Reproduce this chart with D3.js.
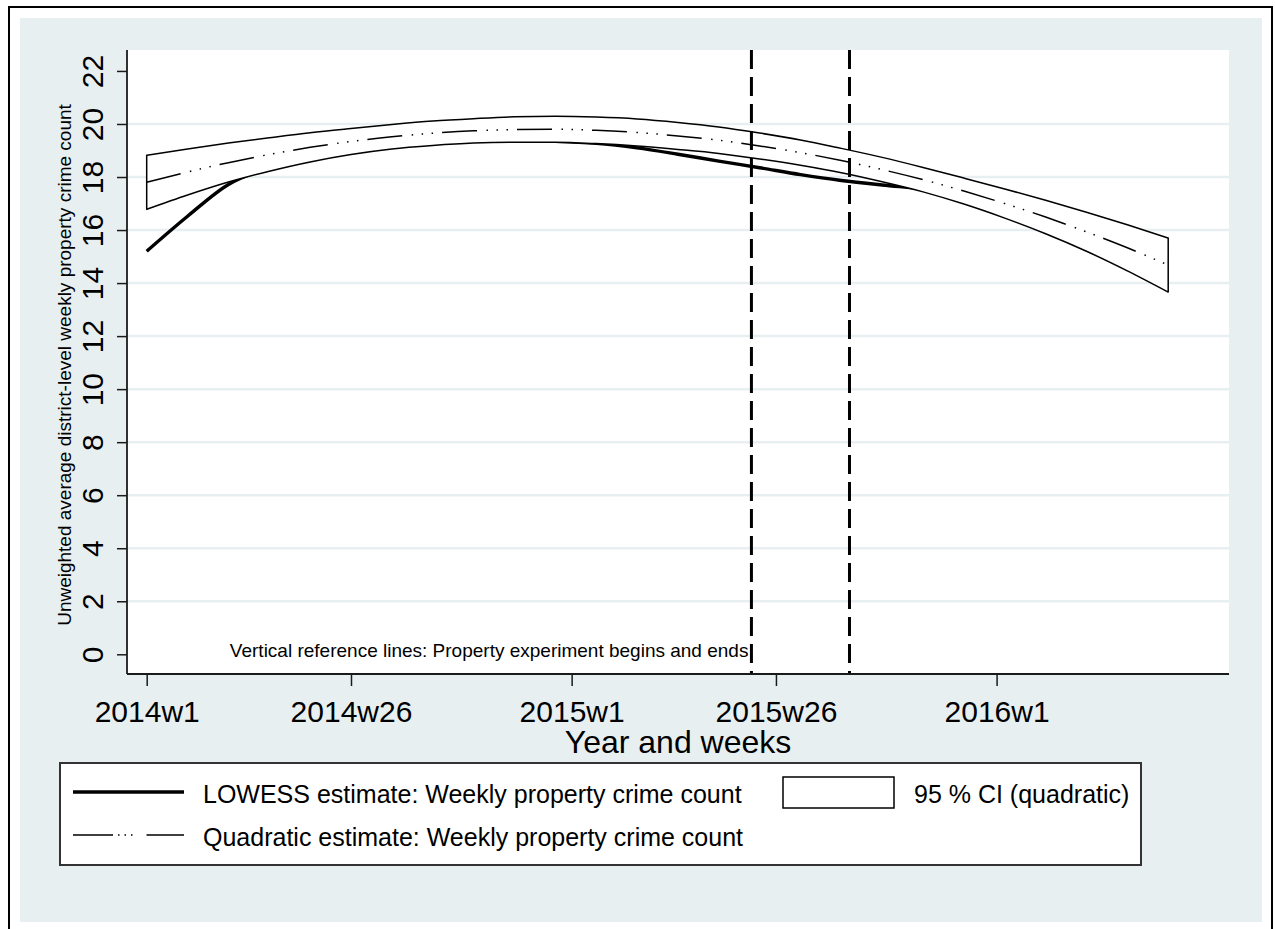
<!DOCTYPE html>
<html>
<head>
<meta charset="utf-8">
<script src="https://cdn.jsdelivr.net/npm/d3@7"></script>
<style>
  html, body { margin: 0; padding: 0; background: #ffffff; }
  svg { display: block; font-family: "Liberation Sans", Arial, sans-serif; }
</style>
</head>
<body>
<svg id="chart" width="1275" height="929"></svg>
<script>
// Weeks counted from 2014w1 (= 0)
const weeks = [0, 5, 10, 15, 20, 25, 30, 35, 40, 45, 50, 55, 60, 65, 70, 75, 80, 85, 90, 95, 100, 105, 110, 115, 120, 125];

// LOWESS estimate of the weekly property crime count
const lowess = [15.20, 16.52, 17.72, 18.35, 18.70, 18.95, 19.15, 19.28, 19.36, 19.38, 19.35, 19.27, 19.10, 18.86, 18.60, 18.35, 18.09, 17.87, 17.70, 17.55, 17.35, 17.10, 16.75, 16.30, 15.80, 15.10];

// Quadratic fit and its 95 % confidence interval
const quadFit = [17.80, 18.19, 18.54, 18.85, 19.12, 19.34, 19.52, 19.65, 19.74, 19.79, 19.80, 19.76, 19.68, 19.55, 19.39, 19.17, 18.92, 18.62, 18.28, 17.90, 17.47, 17.00, 16.49, 15.93, 15.33, 14.68];
const ciUpper = [18.82, 19.06, 19.28, 19.48, 19.67, 19.83, 19.98, 20.11, 20.20, 20.27, 20.29, 20.26, 20.19, 20.06, 19.89, 19.66, 19.40, 19.08, 18.74, 18.36, 17.96, 17.55, 17.12, 16.67, 16.20, 15.70];
const ciLower = [16.78, 17.32, 17.81, 18.22, 18.57, 18.85, 19.06, 19.19, 19.28, 19.31, 19.31, 19.26, 19.17, 19.04, 18.89, 18.68, 18.44, 18.16, 17.82, 17.44, 16.98, 16.45, 15.86, 15.20, 14.46, 13.66];

// Experiment start and end (2015w23, 2015w35)
const refWeeks = [74, 86];

// Axis ticks
const xTickWeeks = [0, 25, 52, 77, 104];
const xTickLabels = ["2014w1", "2014w26", "2015w1", "2015w26", "2016w1"];
const yTicks = [0, 2, 4, 6, 8, 10, 12, 14, 16, 18, 20, 22];
const yGrid = [2, 4, 6, 8, 10, 12, 14, 16, 18, 20];

const bg = "#e8eff1";
const svg = d3.select("#chart");

// outer frame and graph region
svg.append("rect").attr("x", 9).attr("y", 7).attr("width", 1263).attr("height", 940)
  .attr("fill", "#ffffff").attr("stroke", "#000").attr("stroke-width", 2);
svg.append("rect").attr("x", 20).attr("y", 18).attr("width", 1242).attr("height", 904)
  .attr("fill", bg);

const plot = { left: 127, right: 1229, top: 50, bottom: 674 };
svg.append("rect").attr("x", plot.left).attr("y", plot.top)
  .attr("width", plot.right - plot.left).attr("height", plot.bottom - plot.top)
  .attr("fill", "#ffffff");

const x = d3.scaleLinear().domain([-2.41, 132.44]).range([plot.left, plot.right]);
const y = d3.scaleLinear().domain([-0.743, 22.79]).range([plot.bottom, plot.top]);

// horizontal grid
svg.append("g").selectAll("line").data(yGrid).join("line")
  .attr("x1", plot.left).attr("x2", plot.right)
  .attr("y1", d => y(d)).attr("y2", d => y(d))
  .attr("stroke", bg).attr("stroke-width", 2.5);

const pts = weeks.map((w, i) => ({ w, lo: lowess[i], q: quadFit[i], up: ciUpper[i], dn: ciLower[i] }));

// LOWESS line (drawn first; the CI band covers it where it lies inside)
svg.append("path").datum(pts)
  .attr("d", d3.line().x(d => x(d.w)).y(d => y(d.lo)).curve(d3.curveMonotoneX))
  .attr("fill", "none").attr("stroke", "#000").attr("stroke-width", 3.4)
  .attr("stroke-linejoin", "round");

// CI band
svg.append("path").datum(pts)
  .attr("d", d3.area().x(d => x(d.w)).y0(d => y(d.dn)).y1(d => y(d.up)).curve(d3.curveMonotoneX)(pts) + "")
  .attr("fill", "#ffffff").attr("stroke", "#000").attr("stroke-width", 1.5)
  .attr("stroke-linejoin", "round");

// quadratic estimate
const quadDash = "35 9.5 1.5 8.5 1.5 8.5 1.5 9";
svg.append("path").datum(pts)
  .attr("d", d3.line().x(d => x(d.w)).y(d => y(d.q)).curve(d3.curveMonotoneX))
  .attr("fill", "none").attr("stroke", "#000").attr("stroke-width", 1.5)
  .attr("stroke-dasharray", quadDash);

// experiment reference lines
svg.append("g").selectAll("line").data(refWeeks).join("line")
  .attr("x1", d => x(d)).attr("x2", d => x(d))
  .attr("y1", plot.top).attr("y2", plot.bottom)
  .attr("stroke", "#000").attr("stroke-width", 3)
  .attr("stroke-dasharray", "19 8");

svg.append("text")
  .attr("x", x(refWeeks[0]) - 3).attr("y", y(0) + 3)
  .attr("text-anchor", "end").attr("font-size", 19).attr("fill", "#000")
  .text("Vertical reference lines: Property experiment begins and ends");

// axes
const axisColor = "#1a1a1a";
const yAxis = svg.append("g").attr("transform", `translate(${plot.left},0)`)
  .call(d3.axisLeft(y).tickValues(yTicks).tickSize(10).tickSizeOuter(0));
yAxis.select(".domain").attr("d", `M0,${plot.top}V${plot.bottom}`)
  .attr("stroke", axisColor).attr("stroke-width", 1.8);
yAxis.selectAll(".tick line").attr("stroke", axisColor).attr("stroke-width", 1.5);
yAxis.selectAll(".tick text")
  .attr("transform", "rotate(-90)").attr("x", 0).attr("y", -24).attr("dy", 0)
  .attr("text-anchor", "middle").attr("font-size", 30).attr("fill", "#000")
  .attr("font-family", "Liberation Sans, Arial, sans-serif");

const xAxis = svg.append("g").attr("transform", `translate(0,${plot.bottom})`)
  .call(d3.axisBottom(x).tickValues(xTickWeeks).tickSize(12).tickSizeOuter(0)
    .tickFormat((d, i) => xTickLabels[i]));
xAxis.select(".domain").attr("d", `M${plot.left},0H${plot.right}`)
  .attr("stroke", axisColor).attr("stroke-width", 1.8);
xAxis.selectAll(".tick line").attr("stroke", axisColor).attr("stroke-width", 1.5);
xAxis.selectAll(".tick text")
  .attr("y", 48).attr("dy", 0).attr("font-size", 30).attr("fill", "#000")
  .attr("font-family", "Liberation Sans, Arial, sans-serif");

// axis titles
svg.append("text")
  .attr("transform", `translate(71,${(plot.top + plot.bottom) / 2 + 3}) rotate(-90)`)
  .attr("text-anchor", "middle").attr("font-size", 19).attr("fill", "#000")
  .text("Unweighted average district-level weekly property crime count");
svg.append("text")
  .attr("x", (plot.left + plot.right) / 2).attr("y", 753)
  .attr("text-anchor", "middle").attr("font-size", 32).attr("fill", "#000")
  .text("Year and weeks");

// legend
const lg = svg.append("g");
lg.append("rect").attr("x", 60).attr("y", 763).attr("width", 1081).attr("height", 102)
  .attr("fill", "#fff").attr("stroke", "#333").attr("stroke-width", 2);
lg.append("line").attr("x1", 73).attr("x2", 184).attr("y1", 792).attr("y2", 792)
  .attr("stroke", "#000").attr("stroke-width", 3.4);
lg.append("text").attr("x", 203).attr("y", 803).attr("font-size", 25)
  .text("LOWESS estimate: Weekly property crime count");
lg.append("line").attr("x1", 73).attr("x2", 184).attr("y1", 835).attr("y2", 835)
  .attr("stroke", "#000").attr("stroke-width", 1.5)
  .attr("stroke-dasharray", "40 5 1.5 5 1.5 5 1.5 14 40");
lg.append("text").attr("x", 203).attr("y", 846).attr("font-size", 25)
  .text("Quadratic estimate: Weekly property crime count");
lg.append("rect").attr("x", 783).attr("y", 777).attr("width", 111).attr("height", 31)
  .attr("fill", "#fff").attr("stroke", "#000").attr("stroke-width", 1.5);
lg.append("text").attr("x", 914).attr("y", 803).attr("font-size", 25)
  .text("95 % CI (quadratic)");
</script>
</body>
</html>
